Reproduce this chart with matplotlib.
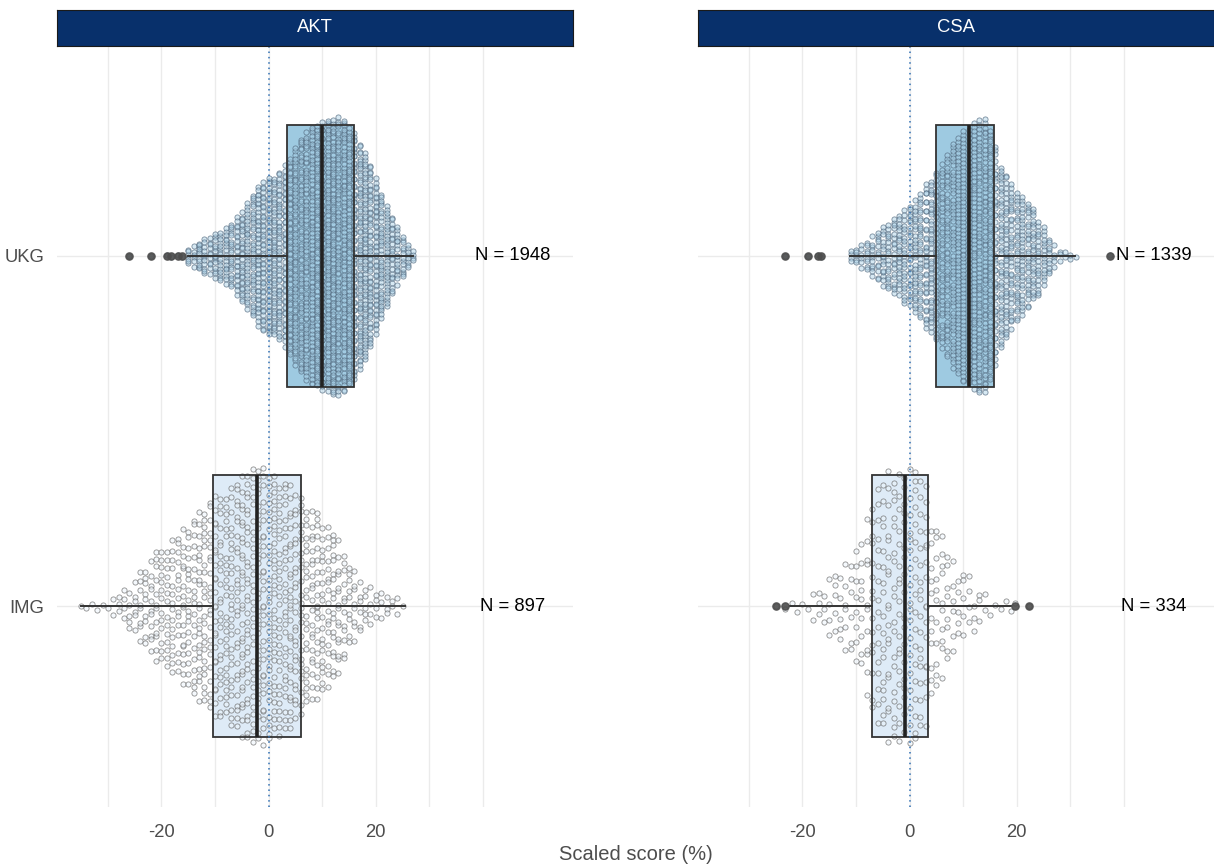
import numpy as np
import matplotlib
matplotlib.use("Agg")
import matplotlib.pyplot as plt

plt.rcParams['font.family'] = ['Liberation Sans', 'DejaVu Sans']

# ---------------- data ----------------
panels = ["AKT", "CSA"]
groups = ["IMG", "UKG"]          # bottom -> top
group_n = {"AKT": {"UKG": 1948, "IMG": 897}, "CSA": {"UKG": 1339, "IMG": 334}}

akt_ukg_scores = list(range(-15, 28))
akt_ukg_counts = [6, 6, 11, 11, 11, 14, 16, 18, 20, 24, 29, 33, 38, 44, 48,
                  49, 49, 52, 56, 60, 69, 74, 77, 81, 82, 83, 84, 87, 88, 85,
                  81, 76, 72, 65, 57, 49, 39, 32, 23, 18, 13, 8, 4]
akt_ukg_outliers = [-26.1, -22.0, -19.0, -18.2, -17.0, -16.2]

akt_img_scores = list(range(-35, 26))
akt_img_counts = [1, 1, 1, 1, 1, 1, 2, 3, 4, 5, 6, 8, 9, 11, 12,
                  13, 14, 15, 15, 17, 18, 19, 21, 22, 23, 24, 24, 25, 26, 27,
                  28, 30, 30, 30, 30, 29, 29, 28, 28, 26, 25, 24, 22, 21, 20,
                  19, 18, 17, 15, 12, 9, 8, 6, 5, 4, 4, 3, 3, 2, 2, 1]
akt_img_outliers = []

csa_ukg_scores = list(range(-11, 32))
csa_ukg_counts = [4, 5, 6, 8, 11, 13, 15, 18, 20, 22, 24, 25, 29, 33, 37,
                  40, 42, 47, 52, 57, 63, 66, 63, 68, 72, 74, 67, 53, 47, 41,
                  37, 33, 31, 28, 24, 20, 16, 10, 5, 3, 2, 2, 1]
csa_ukg_outliers = [-23.2, -19.0, -17.1, -16.5, 37.4]

csa_img_scores = list(range(-22, 20))
csa_img_counts = [1, 1, 1, 1, 2, 3, 3, 4, 5, 5, 6, 6, 8, 9, 11,
                  15, 16, 17, 18, 18, 18, 18, 18, 18, 18, 17, 11, 11, 10, 8,
                  6, 5, 5, 4, 3, 3, 2, 1, 1, 1, 1, 1]
csa_img_outliers = [-25.0, -23.3, 19.6, 22.2]

# box statistics: q1, median, q3, lower whisker, upper whisker
box_stats = {
    ("AKT", "UKG"): [3.45, 10.0, 16.0, -15.0, 27.0],
    ("AKT", "IMG"): [-10.45, -2.2, 5.95, -35.0, 25.5],
    ("CSA", "UKG"): [5.0, 11.0, 15.8, -11.2, 30.8],
    ("CSA", "IMG"): [-7.0, -0.9, 3.4, -22.4, 19.0],
}

data = {
    ("AKT", "UKG"): (akt_ukg_scores, akt_ukg_counts, akt_ukg_outliers),
    ("AKT", "IMG"): (akt_img_scores, akt_img_counts, akt_img_outliers),
    ("CSA", "UKG"): (csa_ukg_scores, csa_ukg_counts, csa_ukg_outliers),
    ("CSA", "IMG"): (csa_img_scores, csa_img_counts, csa_img_outliers),
}

x_ticks = [-20, 0, 20]
x_grid = [-30, -20, -10, 0, 10, 20, 30, 40]
xlim = (-39.5, 56.8)
ylim = (0.426, 2.597)
n_label_x = 45.5

# ---------------- styling ----------------
box_fill = {"UKG": "#9ecae1", "IMG": "#deebf7"}
pt_face = {"UKG": (0.66, 0.81, 0.90, 0.45), "IMG": (0.93, 0.96, 0.99, 0.5)}
pt_edge = {"UKG": (0.33, 0.42, 0.50, 0.75), "IMG": (0.42, 0.42, 0.42, 0.75)}
strip_col = "#08306b"
text_grey = "#4d4d4d"


def vdc(n):
    out = np.zeros(n)
    for i in range(n):
        k = i + 1
        denom = 1.0
        v = 0.0
        while k:
            denom *= 2
            v += (k % 2) / denom
            k //= 2
        out[i] = v
    return out


def quasi_offsets(x, width=0.4, bw=1.0):
    grid = np.linspace(x.min() - 3 * bw, x.max() + 3 * bw, 600)
    dg = np.exp(-0.5 * ((grid[:, None] - x[None, :]) / bw) ** 2).sum(1)
    dx = np.exp(-0.5 * ((x[:, None] - x[None, :]) / bw) ** 2).sum(1)
    rel = dx / dg.max()
    order = np.argsort(x, kind="stable")
    rank = np.empty(len(x), int)
    rank[order] = np.arange(len(x))
    v = vdc(len(x))[rank]
    return rel * (v - 0.5) * 2 * width


W, H = 1214, 867
fig = plt.figure(figsize=(W / 100, H / 100), dpi=100)

ax_lefts = [57, 698]
ax_w = 516
ax_top, ax_bot = 47, 807
strip_top, strip_bot = 10, 46

for pi, panel in enumerate(panels):
    ax = fig.add_axes([ax_lefts[pi] / W, 1 - ax_bot / H, ax_w / W, (ax_bot - ax_top) / H])
    ax.set_xlim(*xlim)
    ax.set_ylim(*ylim)
    for s in ax.spines.values():
        s.set_visible(False)
    for gx in x_grid:
        ax.axvline(gx, color="#ebebeb", lw=1.0, zorder=0)
    for gy in (1, 2):
        ax.axhline(gy, color="#ebebeb", lw=1.0, zorder=0)

    for gi, grp in enumerate(groups):
        ypos = gi + 1
        scores, counts, outl = data[(panel, grp)]
        xs = np.concatenate([np.repeat(np.array(scores, float), counts), np.array(outl, float)])
        offs = quasi_offsets(xs)
        q1, med, q3, wlo, whi = box_stats[(panel, grp)]
        stats = [dict(q1=q1, med=med, q3=q3, whislo=wlo, whishi=whi, fliers=np.array(outl))]
        # box fill below points
        bp = ax.bxp(stats, positions=[ypos], widths=0.75, vert=False, patch_artist=True,
                    showcaps=False, showfliers=False, manage_ticks=False,
                    boxprops=dict(facecolor=box_fill[grp], edgecolor="none"),
                    whiskerprops=dict(lw=0), medianprops=dict(lw=0))
        for a in bp["boxes"]:
            a.set_zorder(1)
        ax.scatter(xs, ypos + offs, s=14, facecolor=pt_face[grp], edgecolor=pt_edge[grp],
                   linewidths=0.6, zorder=3)
        # box outlines on top
        bp2 = ax.bxp(stats, positions=[ypos], widths=0.75, vert=False, patch_artist=True,
                     showcaps=False, showfliers=True, manage_ticks=False,
                     boxprops=dict(facecolor="none", edgecolor="#333333", lw=1.3),
                     whiskerprops=dict(color="#333333", lw=1.4),
                     medianprops=dict(color="#222222", lw=2.6),
                     flierprops=dict(marker="o", markerfacecolor="#4d4d4d",
                                     markeredgecolor="#4d4d4d", markersize=5.2, alpha=0.9))
        for k in ("boxes", "whiskers", "medians", "fliers"):
            for a in bp2[k]:
                a.set_zorder(4)
        ax.text(n_label_x, ypos, f"N = {group_n[panel][grp]}", ha="center", va="center",
                fontsize=13.3, color="black", zorder=6)

    ax.axvline(0, color="#2f6fb3", lw=1.1, ls=(0, (1, 2.5)), zorder=5)

    ax.set_xticks(x_ticks)
    ax.set_xticklabels([str(t) for t in x_ticks])
    ax.set_yticks([1, 2])
    if pi == 0:
        ax.set_yticklabels(groups)
    else:
        ax.set_yticklabels([])
    ax.tick_params(axis="both", length=0, labelsize=13.3, labelcolor=text_grey)
    ax.tick_params(axis="x", pad=12)
    ax.tick_params(axis="y", pad=9)

    sax = fig.add_axes([ax_lefts[pi] / W, 1 - strip_bot / H, ax_w / W, (strip_bot - strip_top) / H])
    sax.set_facecolor(strip_col)
    sax.set_xticks([])
    sax.set_yticks([])
    for s in sax.spines.values():
        s.set_color("#1a1a1a")
        s.set_linewidth(0.8)
    sax.text(0.5, 0.5, panel, color="white", fontsize=13.3, ha="center", va="center",
             transform=sax.transAxes)

fig.text(635.5 / W, 1 - 855 / H, "Scaled score (%)", ha="center", va="center",
         fontsize=14.5, color=text_grey)

fig.savefig("out.png", dpi=100)
